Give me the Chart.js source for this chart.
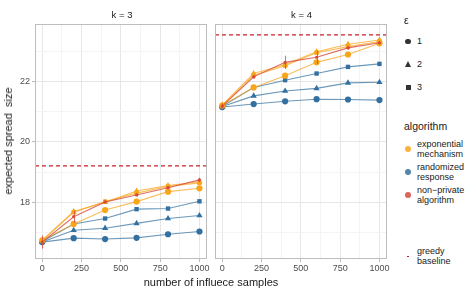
<!DOCTYPE html>
<html>
<head>
<meta charset="utf-8">
<script src="https://cdn.jsdelivr.net/npm/chart.js@4/dist/chart.umd.min.js"></script>
<style>
  html, body { margin:0; padding:0; background:#fff; }
  body { width:476px; height:293px; position:relative; overflow:hidden;
         font-family:"Liberation Sans", Arial, "DejaVu Sans", sans-serif; }
  canvas { position:absolute; top:0; }
  .t { position:absolute; white-space:nowrap; color:#1A1A1A; }
  .strip { font-size:9.5px; text-align:center; top:9px; line-height:12px; }
  .leg { font-size:9px; line-height:9.5px; color:#1A1A1A; }
  .sh { position:absolute; }
</style>
</head>
<body>
<canvas id="c1" width="211" height="293" style="left:0px;width:211px;height:293px"></canvas>
<canvas id="c2" width="180" height="293" style="left:211px;width:180px;height:293px"></canvas>

<div class="t strip" style="left:35px;width:174px;">k = 3</div>
<div class="t strip" style="left:214px;width:175px;">k = 4</div>
<div class="t" style="left:8px;top:141px;font-size:11px;transform:translate(-50%,-50%) rotate(-90deg);">expected spread&nbsp;&nbsp;size</div>
<div class="t" style="left:211px;top:282px;font-size:11px;transform:translate(-50%,-50%);">number of influece samples</div>

<div class="t" style="left:404px;top:14px;font-size:10.5px;">ε</div>
<div class="sh" style="left:405px;top:38.5px;width:5.5px;height:5.5px;border-radius:50%;background:#333;"></div>
<div class="t leg" style="left:417px;top:36.5px;">1</div>
<div class="sh" style="left:404.5px;top:61px;width:0;height:0;border-left:3.5px solid transparent;border-right:3.5px solid transparent;border-bottom:6px solid #333;"></div>
<div class="t leg" style="left:417px;top:59.5px;">2</div>
<div class="sh" style="left:405.5px;top:84.5px;width:5px;height:5px;background:#333;"></div>
<div class="t leg" style="left:417px;top:82.5px;">3</div>

<div class="t" style="left:404px;top:120px;font-size:10.5px;">algorithm</div>
<div class="sh" style="left:405px;top:146px;width:6px;height:6px;border-radius:50%;background:rgba(248,165,26,0.85);"></div>
<div class="t leg" style="left:417px;top:140px;">exponential<br>mechanism</div>
<div class="sh" style="left:405px;top:169px;width:6px;height:6px;border-radius:50%;background:rgba(51,112,159,0.85);"></div>
<div class="t leg" style="left:417px;top:163px;">randomized<br>response</div>
<div class="sh" style="left:405px;top:192px;width:6px;height:6px;border-radius:50%;background:rgba(215,72,62,0.85);"></div>
<div class="t leg" style="left:417px;top:186px;">non−private<br>algorithm</div>

<div style="position:absolute;left:406.5px;top:255.5px;width:2.5px;height:1.3px;background:#C8202B;"></div>
<div class="t leg" style="left:417px;top:247px;">greedy<br>baseline</div>

<script>
// ---------------- data ----------------
const xSamples = [0, 200, 400, 600, 800, 1000];
const xTicks = [0, 125, 250, 375, 500, 625, 750, 875, 1000];
const xMajor = [0, 250, 500, 750, 1000];
const yTicks = [17, 18, 19, 20, 21, 22, 23];
const yMajor = [18, 20, 22];
const epsilonLabels = ['1', '2', '3'];
const panelLabels = ['k = 3', 'k = 4'];

// k = 3
const k3Expo1 = [16.74, 17.28, 17.74, 18.02, 18.35, 18.46];
const k3Expo2 = [16.74, 17.69, 18.00, 18.37, 18.55, 18.68];
const k3Expo3 = [16.72, 17.67, 18.02, 18.30, 18.52, 18.64];
const k3Rr1   = [16.68, 16.81, 16.78, 16.82, 16.94, 17.03];
const k3Rr2   = [16.68, 17.07, 17.14, 17.30, 17.46, 17.56];
const k3Rr3   = [16.70, 17.28, 17.46, 17.77, 17.79, 18.03];
const k3NonPrivate    = [16.68, 17.52, 18.01, 18.24, 18.48, 18.74];
const k3NonPrivateErr = [0.22, 0.20, 0.05, 0.05, 0.05, 0.07];
const k3Greedy = 19.2;

// k = 4
const k4Expo1 = [21.20, 21.80, 22.19, 22.63, 22.89, 23.26];
const k4Expo2 = [21.22, 22.26, 22.56, 22.98, 23.23, 23.37];
const k4Expo3 = [21.20, 22.20, 22.52, 22.95, 23.15, 23.32];
const k4Rr1   = [21.15, 21.25, 21.34, 21.41, 21.40, 21.38];
const k4Rr2   = [21.17, 21.52, 21.68, 21.77, 21.95, 21.97];
const k4Rr3   = [21.18, 21.80, 22.04, 22.26, 22.48, 22.58];
const k4NonPrivate    = [21.18, 22.15, 22.63, 22.80, 23.11, 23.28];
const k4NonPrivateErr = [0.08, 0.06, 0.22, 0.22, 0.06, 0.06];
const k4Greedy = 23.54;

// ---------------- styles ----------------
const ORANGE = '#F8A51A', ORANGE_L = 'rgba(248,165,26,0.72)';
const BLUE = '#33709F', BLUE_L = 'rgba(51,112,159,0.72)';
const RED = '#D7483E', RED_L = 'rgba(215,72,62,0.8)';
const shapes = ['circle', 'triangle', 'rect'];

function pts(vals) { return xSamples.map((x, i) => ({ x: x, y: vals[i] })); }
function series(vals, color, lineColor, shapeIdx, extra) {
  return Object.assign({
    data: pts(vals),
    borderColor: lineColor,
    backgroundColor: color,
    pointBackgroundColor: color,
    pointBorderColor: color,
    pointStyle: shapes[shapeIdx],
    pointRadius: shapeIdx === 1 ? 3.6 : 3.1,
    pointBorderWidth: 0,
    borderWidth: 1.1,
    tension: 0,
    fill: false
  }, extra || {});
}

function buildDatasets(expo, rr, np, npErr) {
  const ds = [];
  ds.push(series(np, RED, RED_L, 0, { errorBars: npErr, pointRadius: 1.6 }));
  for (let i = 2; i >= 0; i--) ds.push(series(expo[i], ORANGE, ORANGE_L, i));
  for (let i = 2; i >= 0; i--) ds.push(series(rr[i], BLUE, BLUE_L, i));
  return ds;
}

const panelPlugin = {
  id: 'panelDecor',
  beforeDatasetsDraw(chart, args, opts) {
    const a = chart.chartArea, ctx = chart.ctx;
    const y = chart.scales.y.getPixelForValue(opts.baseline);
    ctx.save();
    ctx.strokeStyle = '#C8202B';
    ctx.lineWidth = 1.3;
    ctx.setLineDash([4, 3]);
    ctx.beginPath();
    ctx.moveTo(a.left, y); ctx.lineTo(a.right, y);
    ctx.stroke();
    ctx.restore();
  },
  afterDatasetsDraw(chart) {
    const ctx = chart.ctx, ys = chart.scales.y, xs = chart.scales.x;
    ctx.save();
    chart.data.datasets.forEach(d => {
      if (!d.errorBars) return;
      ctx.strokeStyle = RED_L;
      ctx.lineWidth = 1;
      d.data.forEach((p, i) => {
        const e = d.errorBars[i];
        const px = Math.round(xs.getPixelForValue(p.x)) + 0.5;
        ctx.beginPath();
        ctx.moveTo(px, ys.getPixelForValue(p.y - e));
        ctx.lineTo(px, ys.getPixelForValue(p.y + e));
        ctx.stroke();
      });
    });
    const a = chart.chartArea;
    ctx.strokeStyle = '#BDBDBD';
    ctx.lineWidth = 1;
    ctx.strokeRect(Math.round(a.left) + 0.5, Math.round(a.top) + 0.5,
                   Math.round(a.right - a.left) - 1, Math.round(a.bottom - a.top) - 1);
    ctx.restore();
  }
};

function makeChart(id, datasets, baseline, showY, pad) {
  const tickFont = { family: '"Liberation Sans", Arial, sans-serif', size: 9 };
  return new Chart(document.getElementById(id), {
    type: 'line',
    data: { datasets: datasets },
    plugins: [panelPlugin],
    options: {
      responsive: false,
      animation: false,
      events: [],
      layout: { padding: pad },
      plugins: { legend: { display: false }, tooltip: { enabled: false },
                 panelDecor: { baseline: baseline } },
      scales: {
        x: {
          type: 'linear', min: -46, max: 1048,
          afterBuildTicks: s => { s.ticks = xTicks.map(v => ({ value: v })); },
          afterFit: s => { s.height = 20; },
          ticks: {
            autoSkip: false, maxRotation: 0, padding: 1, font: tickFont, color: '#4D4D4D',
            callback: v => xMajor.includes(v) ? String(v) : ''
          },
          grid: {
            color: c => xMajor.includes(c.tick && c.tick.value) ? '#E6E6E6' : '#F4F4F4',
            tickColor: c => xMajor.includes(c.tick && c.tick.value) ? '#BDBDBD' : 'rgba(0,0,0,0)',
            tickLength: 3, lineWidth: 1
          },
          border: { display: false }
        },
        y: {
          type: 'linear', min: 16.12, max: 23.9,
          afterBuildTicks: s => { s.ticks = yTicks.map(v => ({ value: v })); },
          afterFit: s => { s.width = showY ? 35 : 0; },
          ticks: {
            display: showY, autoSkip: false, padding: 2, font: tickFont, color: '#4D4D4D',
            callback: v => yMajor.includes(v) ? String(v) : ''
          },
          grid: {
            color: c => yMajor.includes(c.tick && c.tick.value) ? '#E6E6E6' : '#F4F4F4',
            tickColor: c => (showY && yMajor.includes(c.tick && c.tick.value)) ? '#BDBDBD' : 'rgba(0,0,0,0)',
            drawTicks: showY, tickLength: 3, lineWidth: 1
          },
          border: { display: false }
        }
      }
    }
  });
}

makeChart('c1',
  buildDatasets([k3Expo1, k3Expo2, k3Expo3], [k3Rr1, k3Rr2, k3Rr3], k3NonPrivate, k3NonPrivateErr),
  k3Greedy, true, { left: 0, top: 24, right: 2, bottom: 14 });
makeChart('c2',
  buildDatasets([k4Expo1, k4Expo2, k4Expo3], [k4Rr1, k4Rr2, k4Rr3], k4NonPrivate, k4NonPrivateErr),
  k4Greedy, false, { left: 3, top: 24, right: 2, bottom: 14 });
</script>
</body>
</html>
